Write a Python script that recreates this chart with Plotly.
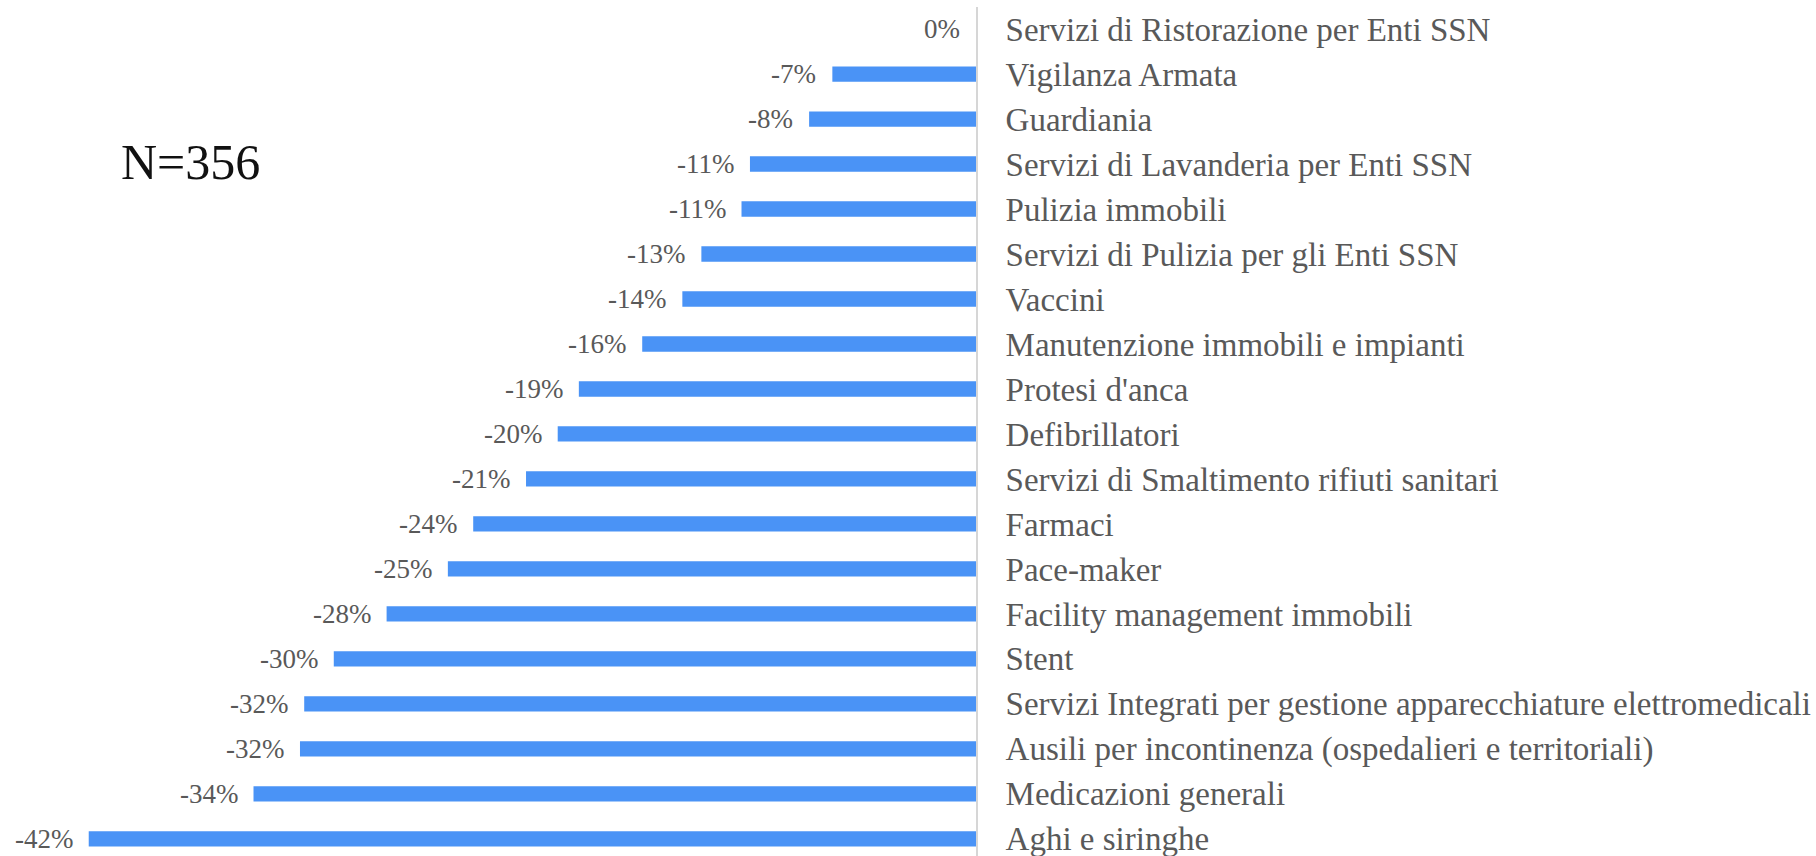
import plotly.graph_objects as go

categories = [
    "Servizi di Ristorazione per Enti SSN",
    "Vigilanza Armata",
    "Guardiania",
    "Servizi di Lavanderia per Enti SSN",
    "Pulizia immobili",
    "Servizi di Pulizia per gli Enti SSN",
    "Vaccini",
    "Manutenzione immobili e impianti",
    "Protesi d'anca",
    "Defibrillatori",
    "Servizi di Smaltimento rifiuti sanitari",
    "Farmaci",
    "Pace-maker",
    "Facility management immobili",
    "Stent",
    "Servizi Integrati per gestione apparecchiature elettromedicali",
    "Ausili per incontinenza (ospedalieri e territoriali)",
    "Medicazioni generali",
    "Aghi e siringhe",
]
values = [0.0, -6.8, -7.9, -10.7, -11.1, -13.0, -13.9, -15.8, -18.8, -19.8,
          -21.3, -23.8, -25.0, -27.9, -30.4, -31.8, -32.0, -34.2, -42.0]
value_labels = ["0%", "-7%", "-8%", "-11%", "-11%", "-13%", "-14%", "-16%", "-19%", "-20%",
                "-21%", "-24%", "-25%", "-28%", "-30%", "-32%", "-32%", "-34%", "-42%"]
sample_label = "N=356"

FONT = "Roboto Slab, Liberation Serif, serif"
TXT = "#595959"

fig = go.Figure()
fig.add_trace(go.Bar(
    x=values, y=categories, orientation="h",
    marker=dict(color="#4A93F6", line=dict(width=0)),
    hoverinfo="skip",
))

for c, v, t in zip(categories, values, value_labels):
    fig.add_annotation(x=v, y=c, text=t, showarrow=False, xanchor="right",
                       yanchor="middle", xshift=-14,
                       font=dict(family=FONT, size=27, color=TXT))

fig.add_annotation(x=0.122, y=0.818, xref="paper", yref="paper", text=sample_label,
                   showarrow=False, xanchor="left", yanchor="middle",
                   font=dict(family=FONT, size=50, color="#111111"))

fig.update_layout(
    width=1816, height=856,
    margin=dict(l=0, r=840, t=7, b=0),
    paper_bgcolor="white", plot_bgcolor="white",
    bargap=0.66,
    showlegend=False,
    xaxis=dict(range=[-46.2, 0], showgrid=False, zeroline=False, showticklabels=False,
               showline=False, fixedrange=True),
    yaxis=dict(categoryorder="array", categoryarray=categories,
               range=[18.38, -0.49], side="right", showgrid=False, zeroline=False,
               showline=True, linecolor="#d6d6d6", linewidth=2,
               ticks="", ticklabelstandoff=21,
               tickfont=dict(family=FONT, size=33, color=TXT)),
)

fig.write_html("out.html")
